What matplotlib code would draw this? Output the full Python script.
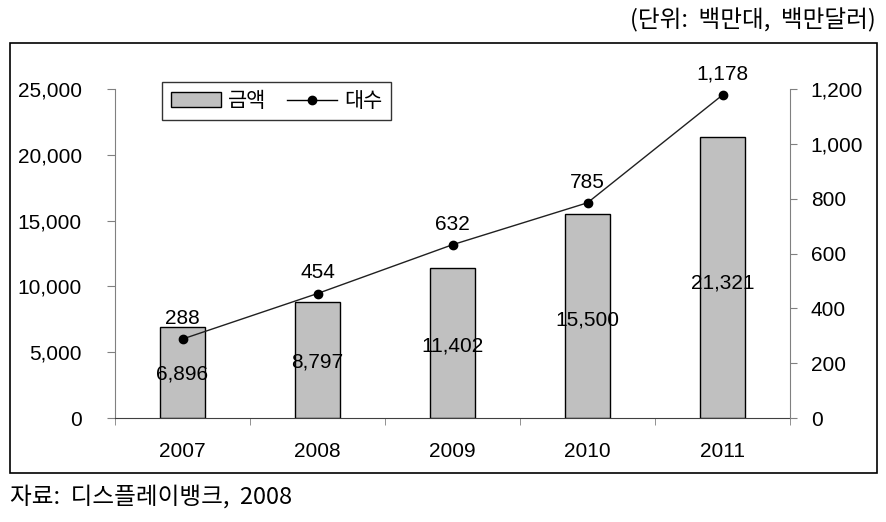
import matplotlib
matplotlib.use('Agg')
import matplotlib.pyplot as plt
from matplotlib.patches import Rectangle, Patch
from matplotlib.lines import Line2D
from matplotlib.ticker import FuncFormatter, FixedLocator

plt.rcParams['font.family'] = ['Liberation Sans', 'Noto Sans CJK KR', 'DejaVu Sans']

years = ['2007', '2008', '2009', '2010', '2011']
amount = [6896, 8797, 11402, 15500, 21321]   # 금액 (백만달러)
units = [288, 454, 632, 785, 1178]           # 대수 (백만대)

kr = ['Noto Sans CJK KR', 'DejaVu Sans']
gray_axis = '#808080'

fig = plt.figure(figsize=(8.86, 5.22), dpi=100)
ax = fig.add_axes([115 / 886, 104 / 522, 675 / 886, 329 / 522])
ax2 = ax.twinx()

x = list(range(len(years)))
ax.bar(x, amount, width=0.335, color='#c0c0c0', edgecolor='black', linewidth=1, zorder=2)
ax2.plot(x, units, color='#202020', linewidth=1, marker='o', markersize=6,
         markerfacecolor='black', markeredgecolor='black', zorder=3)

ax.set_xlim(-0.5, len(years) - 0.5)
ax.set_ylim(0, 25000)
ax2.set_ylim(0, 1200)
ax.set_yticks(range(0, 25001, 5000))
ax2.set_yticks(range(0, 1201, 200))
fmt = FuncFormatter(lambda v, p: f'{int(v):,}')
ax.yaxis.set_major_formatter(fmt)
ax2.yaxis.set_major_formatter(fmt)

# category labels between boundary ticks
ax.set_xticks(x)
ax.set_xticklabels(years)
ax.tick_params(axis='x', which='major', length=0, pad=17, labelsize=15)
ax.xaxis.set_minor_locator(FixedLocator([i - 0.5 for i in range(len(years) + 1)]))
ax.tick_params(axis='x', which='minor', length=5, color=gray_axis, direction='out')
ax.tick_params(axis='y', length=6, color=gray_axis, pad=18, labelsize=15)
ax2.tick_params(axis='y', length=5, color=gray_axis, pad=10, labelsize=15)

for a in (ax, ax2):
    a.spines['top'].set_visible(False)
    a.spines['left'].set_color(gray_axis)
    a.spines['right'].set_color(gray_axis)
    a.spines['bottom'].set_color('#404040')
ax.spines['right'].set_visible(False)
ax2.spines['left'].set_visible(False)
ax2.spines['bottom'].set_visible(False)

for i, v in enumerate(amount):
    ax.text(i, v * 0.48, f'{v:,}', ha='center', va='center', fontsize=15, zorder=4)
for i, v in enumerate(units):
    ax2.annotate(f'{v:,}', (i, v), xytext=(0, 8), textcoords='offset points',
                 ha='center', va='bottom', fontsize=15)

handles = [Patch(facecolor='#c0c0c0', edgecolor='black', linewidth=1),
           Line2D([], [], color='black', linewidth=1, marker='o', markersize=6)]
leg = ax.legend(handles, ['금액', '대수'], ncol=2, loc='upper left',
                bbox_to_anchor=(0.07, 1.022), frameon=True, fancybox=False,
                prop={'family': kr, 'size': 15}, handlelength=2.4, handleheight=0.75,
                columnspacing=1.0, handletextpad=0.35, borderpad=0.4, borderaxespad=0)
leg.get_frame().set_edgecolor('black')
leg.get_frame().set_linewidth(1)

fig.patches.append(Rectangle((10 / 886, 49 / 522), 867 / 886, 430 / 522,
                             transform=fig.transFigure, fill=False,
                             edgecolor='black', linewidth=1.2))
fig.text(876 / 886, 1 - 20 / 522, '(단위:  백만대,  백만달러)', ha='right', va='center',
         fontsize=17, family=kr)
fig.text(10 / 886, 1 - 497 / 522, '자료:  디스플레이뱅크,  2008', ha='left', va='center',
         fontsize=17, family=kr)

fig.savefig('out.png', dpi=100)
